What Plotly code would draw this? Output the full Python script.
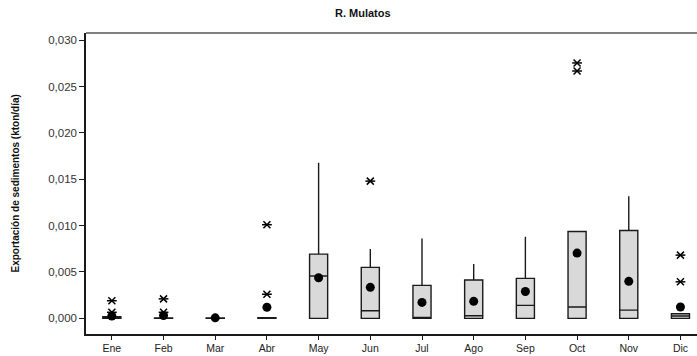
import plotly.graph_objects as go

# Monthly sediment export, R. Mulatos (kton/día)
months = ["Ene", "Feb", "Mar", "Abr", "May", "Jun", "Jul", "Ago", "Sep", "Oct", "Nov", "Dic"]
q1 = [0.0, 0.0, 0.0, 0.0, 0.0, 0.0, 0.0, 0.0, 0.0, 0.0, 0.0, 0.0]
median = [0.00005, 0.0, 0.0, 0.0, 0.00456, 0.00082, 0.0, 0.00028, 0.0014, 0.00122, 0.00089, 0.00025]
q3 = [0.00017, 0.00005, 0.00003, 0.00007, 0.00693, 0.0055, 0.00355, 0.00413, 0.00431, 0.00937, 0.00948, 0.0005]
lower = [0.0, 0.0, 0.0, 0.0, 0.0, 0.0, 0.0, 0.0, 0.0, 0.0, 0.0, 0.0]
upper = [0.0003, 0.0002, 0.00003, 0.00007, 0.01677, 0.00747, 0.00862, 0.00585, 0.0088, 0.00937, 0.01318, 0.0005]
means = [0.00025, 0.0003, 0.00005, 0.0012, 0.00438, 0.00334, 0.00172, 0.00183, 0.0029, 0.00704, 0.00399, 0.00122]

outlier_month = ["Ene", "Ene", "Feb", "Feb", "Abr", "Abr", "Jun", "Oct", "Oct", "Dic", "Dic"]
outlier_value = [0.00065, 0.0019, 0.00065, 0.0021, 0.0026, 0.0101, 0.0148, 0.02668, 0.02755, 0.00394, 0.00682]

y_ticks = [0.0, 0.005, 0.010, 0.015, 0.020, 0.025, 0.030]

fig = go.Figure()

fig.add_trace(go.Box(
    x=months, q1=q1, median=median, q3=q3,
    lowerfence=lower, upperfence=upper,
    boxpoints=False, width=0.35, whiskerwidth=0,
    fillcolor="#d9d9d9",
    line=dict(color="#1a1a1a", width=1.4),
    showlegend=False, hoverinfo="skip",
))

fig.add_trace(go.Scatter(
    x=months, y=means, mode="markers",
    marker=dict(symbol="circle", size=9, color="black"),
    showlegend=False, hoverinfo="skip",
))

# six-armed asterisks for outliers: an "x" plus a horizontal bar
for sym, sz in (("x-thin-open", 7), ("line-ew-open", 7)):
    fig.add_trace(go.Scatter(
        x=outlier_month, y=outlier_value, mode="markers",
        marker=dict(symbol=sym, size=sz, color="black",
                    line=dict(color="black", width=1.5)),
        showlegend=False, hoverinfo="skip",
    ))

fig.update_layout(
    width=697, height=356,
    margin=dict(l=86, r=0, t=33, b=22),
    paper_bgcolor="white", plot_bgcolor="white",
    separators=",.",
    font=dict(family="Liberation Sans, Arial, sans-serif", size=10, color="#222"),
    annotations=[
        dict(text="<b>R. Mulatos</b>", x=(363 - 86) / 611, y=1, yshift=20,
             xref="paper", yref="paper",
             showarrow=False, font=dict(size=11, color="#111"),
             xanchor="center", yanchor="middle"),
        dict(text="<b>Exportación de sedimentos (kton/día)</b>", textangle=-90,
             x=0, y=0.5, xref="paper", yref="paper", xshift=-71,
             showarrow=False, font=dict(size=10, color="#111"),
             xanchor="center", yanchor="middle"),
    ],
    shapes=[
        dict(type="line", xref="paper", yref="paper", x0=0, x1=1, y0=1, y1=1,
             line=dict(color="#808080", width=2)),
    ],
)

fig.update_xaxes(
    type="category", categoryorder="array", categoryarray=months,
    range=[-0.5, 11.32],
    showline=True, linecolor="#1a1a1a", linewidth=1.5,
    ticks="outside", ticklen=4, tickcolor="#1a1a1a",
    showgrid=False, zeroline=False,
    tickfont=dict(size=10.5, color="#222"),
)
fig.update_yaxes(
    range=[-0.00169, 0.03078],
    tickvals=y_ticks, tickformat=".3f",
    showline=True, linecolor="#1a1a1a", linewidth=1.5,
    ticks="outside", ticklen=5, tickcolor="#1a1a1a",
    showgrid=False, zeroline=False,
    tickfont=dict(size=11.5, color="#333"),
)

fig.write_html("out.html")
